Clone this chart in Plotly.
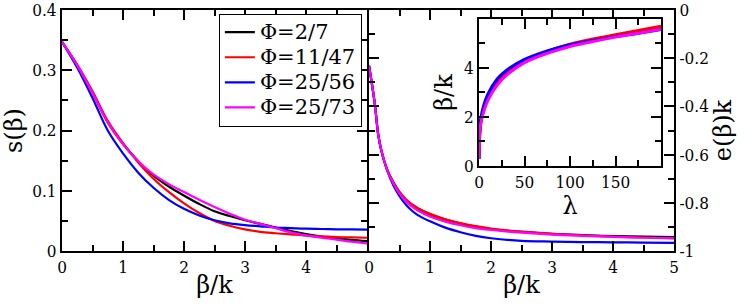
import plotly.graph_objects as go

# ---------------- data ----------------
names = ["Φ=2/7", "Φ=11/47", "Φ=25/56", "Φ=25/73"]
colors = ["#000000", "#ff0000", "#0000ff", "#ff00ff"]

# left panel: s(beta) vs beta/k
beta_s = [0, 0.25, 0.5, 0.75, 1.0, 1.25, 1.5, 1.75, 2.0, 2.25, 2.5, 2.75, 3.0, 3.25, 3.5, 3.75, 4.0, 4.25, 4.5, 4.75, 5.0]
s_black = [0.347, 0.308, 0.263, 0.214, 0.178, 0.149, 0.125, 0.107, 0.092, 0.078, 0.066, 0.058, 0.051, 0.045, 0.039, 0.033, 0.028, 0.024, 0.021, 0.0185, 0.0164]
s_red = [0.347, 0.309, 0.265, 0.216, 0.179, 0.147, 0.120, 0.098, 0.079, 0.063, 0.050, 0.042, 0.036, 0.0318, 0.0295, 0.0275, 0.0256, 0.0242, 0.0232, 0.0225, 0.022]
s_blue = [0.347, 0.304, 0.254, 0.200, 0.162, 0.130, 0.105, 0.085, 0.070, 0.059, 0.051, 0.046, 0.043, 0.041, 0.039, 0.038, 0.037, 0.0365, 0.036, 0.0358, 0.0355]
s_magenta = [0.347, 0.308, 0.262, 0.213, 0.177, 0.149, 0.127, 0.111, 0.098, 0.085, 0.073, 0.062, 0.052, 0.045, 0.038, 0.031, 0.026, 0.022, 0.019, 0.0155, 0.0126]

# right panel: e(beta)k vs beta/k
beta_e = [0, 0.05, 0.1, 0.15, 0.2, 0.3, 0.4, 0.5, 0.6, 0.7, 0.8, 1.0, 1.25, 1.5, 1.75, 2.0, 2.5, 3.0, 3.5, 4.0, 4.5, 5.0]
e_black = [-0.231, -0.31, -0.40, -0.515, -0.58, -0.664, -0.716, -0.756, -0.786, -0.808, -0.824, -0.848, -0.870, -0.886, -0.899, -0.909, -0.921, -0.929, -0.934, -0.938, -0.940, -0.942]
e_red = [-0.231, -0.31, -0.40, -0.515, -0.58, -0.663, -0.715, -0.755, -0.784, -0.806, -0.822, -0.846, -0.868, -0.884, -0.897, -0.907, -0.920, -0.929, -0.935, -0.940, -0.944, -0.947]
e_blue = [-0.231, -0.31, -0.40, -0.515, -0.582, -0.668, -0.728, -0.772, -0.806, -0.832, -0.851, -0.877, -0.903, -0.922, -0.937, -0.947, -0.958, -0.961, -0.963, -0.964, -0.965, -0.966]
e_magenta = [-0.231, -0.31, -0.40, -0.515, -0.58, -0.665, -0.720, -0.762, -0.792, -0.815, -0.832, -0.857, -0.878, -0.893, -0.905, -0.913, -0.924, -0.932, -0.937, -0.941, -0.945, -0.948]

# inset: beta/k vs lambda
lam = [0, 1, 2, 5, 10, 20, 30, 50, 75, 100, 125, 150, 175, 200]
b_black = [0.3, 1.50, 1.80, 2.28, 2.78, 3.38, 3.78, 4.28, 4.66, 4.94, 5.15, 5.33, 5.49, 5.65]
b_red = [0.3, 1.50, 1.80, 2.30, 2.80, 3.40, 3.80, 4.30, 4.68, 4.97, 5.18, 5.36, 5.53, 5.70]
b_blue = [0.3, 1.60, 1.95, 2.45, 2.95, 3.55, 3.90, 4.35, 4.70, 4.95, 5.12, 5.28, 5.42, 5.57]
b_magenta = [0.3, 1.45, 1.75, 2.20, 2.70, 3.30, 3.70, 4.22, 4.60, 4.88, 5.08, 5.26, 5.42, 5.58]

s_all = [s_black, s_red, s_blue, s_magenta]
e_all = [e_black, e_red, e_blue, e_magenta]
b_all = [b_black, b_red, b_blue, b_magenta]

left_xticks = [0, 1, 2, 3, 4]
right_xticks = [0, 1, 2, 3, 4, 5]
left_yticks = [0, 0.1, 0.2, 0.3, 0.4]
right_yticks = [-1, -0.8, -0.6, -0.4, -0.2, 0]
right_ylabels = ["-1", "-0.8", "-0.6", "-0.4", "-0.2", "0"]
inset_xticks = [0, 50, 100, 150]
inset_yticks = [0, 2, 4]

# ---------------- figure ----------------
FONT = "DejaVu Serif Condensed, DejaVu Serif"
FONT_TITLE = "DejaVu Serif"
fig = go.Figure()

for i in range(4):
    fig.add_trace(go.Scatter(x=beta_s, y=s_all[i], mode="lines",
                             name='<span style="font-size:21px">' + names[i] + "</span>",
                             line=dict(color=colors[i], width=2.2, shape="spline", smoothing=1.0),
                             xaxis="x", yaxis="y", showlegend=True))
for i in range(4):
    fig.add_trace(go.Scatter(x=beta_e, y=e_all[i], mode="lines", name=names[i],
                             line=dict(color=colors[i], width=2.2, shape="spline", smoothing=1.0),
                             xaxis="x2", yaxis="y2", showlegend=False))
for i in range(4):
    fig.add_trace(go.Scatter(x=lam, y=b_all[i], mode="lines", name=names[i],
                             line=dict(color=colors[i], width=3, shape="spline", smoothing=1.0),
                             xaxis="x3", yaxis="y3", showlegend=False))

tickfont = dict(family=FONT, size=17, color="black")
titlefont = dict(family=FONT_TITLE, size=24, color="black")
common = dict(showline=True, linecolor="black", linewidth=2, mirror="allticks",
              ticks="inside", ticklen=10, tickwidth=1.5, tickcolor="black",
              showgrid=False, zeroline=False, tickfont=tickfont,
              automargin=False, ticklabeloverflow="allow")

def minor(vals, ln=6):
    return dict(tickmode="array", tickvals=vals, ticks="inside", ticklen=ln,
                tickwidth=1.5, tickcolor="black", showgrid=False)

fig.update_layout(
    width=746, height=306,
    margin=dict(l=62, r=72, t=10, b=55),
    plot_bgcolor="white", paper_bgcolor="white",
    font=dict(family=FONT, color="black"),
    xaxis=dict(domain=[0, 305 / 612], range=[0, 5], anchor="y",
               tickmode="array", tickvals=left_xticks,
               minor=minor([0.5, 1.5, 2.5, 3.5, 4.5]),
               title=dict(text="β/k", font=titlefont, standoff=0), **common),
    yaxis=dict(domain=[0, 1], range=[0, 0.4], anchor="x",
               tickmode="array", tickvals=left_yticks,
               minor=minor([0.05, 0.15, 0.25, 0.35]),
               title=dict(text="s(β)", font=titlefont, standoff=4), **common),
    xaxis2=dict(domain=[307 / 612, 1], range=[0, 5], anchor="y2",
                tickmode="array", tickvals=right_xticks,
                minor=minor([0.5, 1.5, 2.5, 3.5, 4.5]),
                title=dict(text="β/k", font=titlefont, standoff=0), **common),
    yaxis2=dict(domain=[0, 1], range=[-1, 0], anchor="x2", side="right",
                tickmode="array", tickvals=right_yticks, ticktext=right_ylabels,
                minor=minor([-0.9, -0.7, -0.5, -0.3, -0.1]),
                title=dict(text="e(β)k", font=titlefont, standoff=4), **common),
    xaxis3=dict(domain=[0.6814, 0.9788], range=[0, 200], anchor="y3",
                tickmode="array", tickvals=inset_xticks,
                minor=minor([25, 75, 125, 175]),
                title=dict(text="λ", font=titlefont, standoff=0), **common),
    yaxis3=dict(domain=[0.3527, 0.9627], range=[0, 6], anchor="x3",
                tickmode="array", tickvals=inset_yticks,
                minor=minor([1, 3, 5]),
                title=dict(text="β/k", font=titlefont, standoff=4), **common),
    legend=dict(x=0.49, y=0.985, xanchor="right", yanchor="top",
                bgcolor="white", bordercolor="black", borderwidth=1,
                font=dict(family=FONT_TITLE, size=17, color="black"),
                itemwidth=30, tracegroupgap=0),
)

fig.write_html("out.html", config={"displayModeBar": False},
               post_script="document.body.style.margin='0';document.body.style.padding='0';")
